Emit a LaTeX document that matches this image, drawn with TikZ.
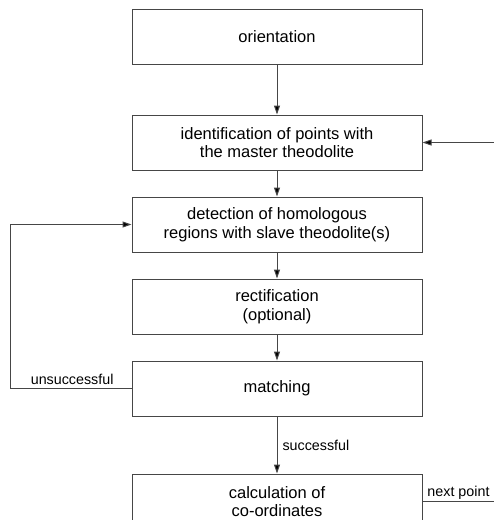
\documentclass[tikz,border=0pt]{standalone}
\usepackage{fontspec}
\setmainfont{Liberation Sans}
\usetikzlibrary{arrows.meta,positioning}
\definecolor{linegrey}{RGB}{70,70,70}

\begin{document}
\begin{tikzpicture}[x=1pt,y=1pt,
    stepbox/.style={rectangle, draw=linegrey, line width=1pt,
                    minimum width=290pt, minimum height=55pt, align=center,
                    font=\fontsize{16.5}{18.5}\selectfont, inner sep=2pt},
    arrow/.style={-{Triangle[length=9pt,width=6pt,fill=black]}, line width=1pt, linegrey},
    lbl/.style={font=\fontsize{14.3}{16}\selectfont, text=black, inner sep=2pt},
    node distance=26pt
]
\useasboundingbox (0,0) rectangle (494,-520);
\node[stepbox] (orient) at (277,-36.5) {orientation};
\node[stepbox, below=50pt of orient] (ident)  {identification of points with\\the master theodolite};
\node[stepbox, below=of ident]       (detect) {detection of homologous\\regions with slave theodolite(s)};
\node[stepbox, below=of detect]      (rect)   {rectification\\(optional)};
\node[stepbox, below=of rect]        (match)  {matching};
\node[stepbox, below=57pt of match]  (coords) {calculation of\\co-ordinates};

\coordinate[right=72pt of ident.east]  (feed);
\coordinate[left=121pt of match.west]  (back);
\coordinate[right=72pt of coords.east] (nextp);

\draw[arrow] (orient.south) -- (ident.north);
\draw[arrow] (feed)         -- (ident.east);
\draw[arrow] (ident.south)  -- (detect.north);
\draw[arrow] (detect.south) -- (rect.north);
\draw[arrow] (rect.south)   -- (match.north);
\draw[arrow] (match.south)  -- node[lbl, right, xshift=3pt] {successful} (coords.north);
\draw[arrow] (match.west)   -- node[lbl, pos=0.12, anchor=south east, inner sep=3pt] {unsuccessful} (back) |- (detect.west);
\draw[line width=1pt, linegrey] (coords.east) -- node[lbl, above] {next point} (nextp);
\end{tikzpicture}
\end{document}
